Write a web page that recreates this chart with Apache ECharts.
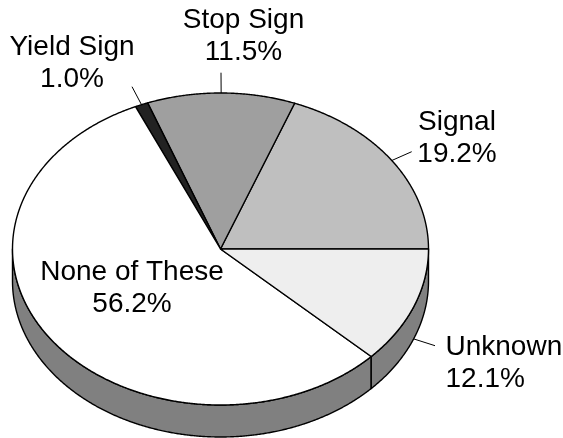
<!DOCTYPE html>
<html>
<head>
<meta charset="utf-8">
<style>html,body{margin:0;padding:0;background:#fff}#c{width:563px;height:438px}</style>
<script src="https://cdn.jsdelivr.net/npm/echarts@6/dist/echarts.min.js"></script>
</head>
<body>
<div id="c"></div>
<script>
const categories = ['Signal', 'Stop Sign', 'Yield Sign', 'None of These', 'Unknown'];
const shares = [19.2, 11.5, 1.0, 56.2, 12.1];
const sliceColors = ['#bfbfbf', '#9f9f9f', '#222222', '#ffffff', '#eeeeee'];
const labelCenters = [[457, 138], [243.5, 36.5], [72, 63.3], [132, 288], [445.5, 363]];
const labelAligns = ['center', 'center', 'center', 'center', 'left'];
const leaderEnds = [[411.7, 151.7], [221, 72.7], [132, 86.7], null, [435, 345.7]];

const CX = 220.5, CY = 249, RX = 208, RY = 156, DEPTH = 32;
const total = shares.reduce((a, b) => a + b, 0);
const starts = [];
shares.reduce((acc, v, i) => { starts[i] = acc; return acc + v; }, 0);
const toAngle = v => v / total * 360;
const pt = (deg, dy) => {
  const r = deg * Math.PI / 180;
  return [CX + RX * Math.cos(r), CY - RY * Math.sin(r) + (dy || 0)];
};
const arc = (a, b, dy) => {
  const out = [];
  const n = Math.max(2, Math.ceil(Math.abs(b - a) * 3));
  for (let i = 0; i <= n; i++) out.push(pt(a + (b - a) * i / n, dy));
  return out;
};
const lineStyle = { stroke: '#000', lineWidth: 1.4, lineJoin: 'round' };

function renderTop(params, api) {
  const i = params.dataIndex;
  const a = toAngle(starts[i]), b = a + toAngle(api.value(0));
  return {
    type: 'polygon',
    shape: { points: [[CX, CY]].concat(arc(a, b)) },
    style: Object.assign({ fill: sliceColors[i] }, lineStyle)
  };
}
function renderWall(params, api) {
  const i = params.dataIndex;
  const a = Math.max(toAngle(starts[i]), 180), b = toAngle(starts[i]) + toAngle(api.value(0));
  if (b <= a) return { type: 'group', children: [] };
  return {
    type: 'polygon',
    shape: { points: arc(a, b).concat(arc(b, a, DEPTH)) },
    style: Object.assign({ fill: '#808080' }, lineStyle)
  };
}
function renderLabel(params, api) {
  const i = params.dataIndex;
  const v = api.value(0);
  const mid = toAngle(starts[i]) + toAngle(v) / 2;
  const children = [{
    type: 'text',
    style: {
      text: categories[i] + '\n' + v.toFixed(1) + '%',
      x: labelCenters[i][0], y: labelCenters[i][1],
      fill: '#000', font: '28px "Liberation Sans", Arial, sans-serif',
      lineHeight: 32, align: labelAligns[i], verticalAlign: 'middle'
    }
  }];
  if (leaderEnds[i]) {
    children.push({
      type: 'polyline',
      shape: { points: [pt(mid, mid > 180 ? DEPTH : 0), leaderEnds[i]] },
      style: { stroke: '#000', lineWidth: 1, fill: null }
    });
  }
  return { type: 'group', children };
}

const chart = echarts.init(document.getElementById('c'), null, { renderer: 'canvas' });
chart.setOption({
  animation: false,
  backgroundColor: '#fff',
  series: [
    { type: 'custom', coordinateSystem: 'none', silent: true, z: 1, renderItem: renderWall, data: shares },
    { type: 'custom', coordinateSystem: 'none', silent: true, z: 2, renderItem: renderTop, data: shares },
    { type: 'custom', coordinateSystem: 'none', silent: true, z: 3, renderItem: renderLabel, data: shares }
  ]
});
</script>
</body>
</html>
